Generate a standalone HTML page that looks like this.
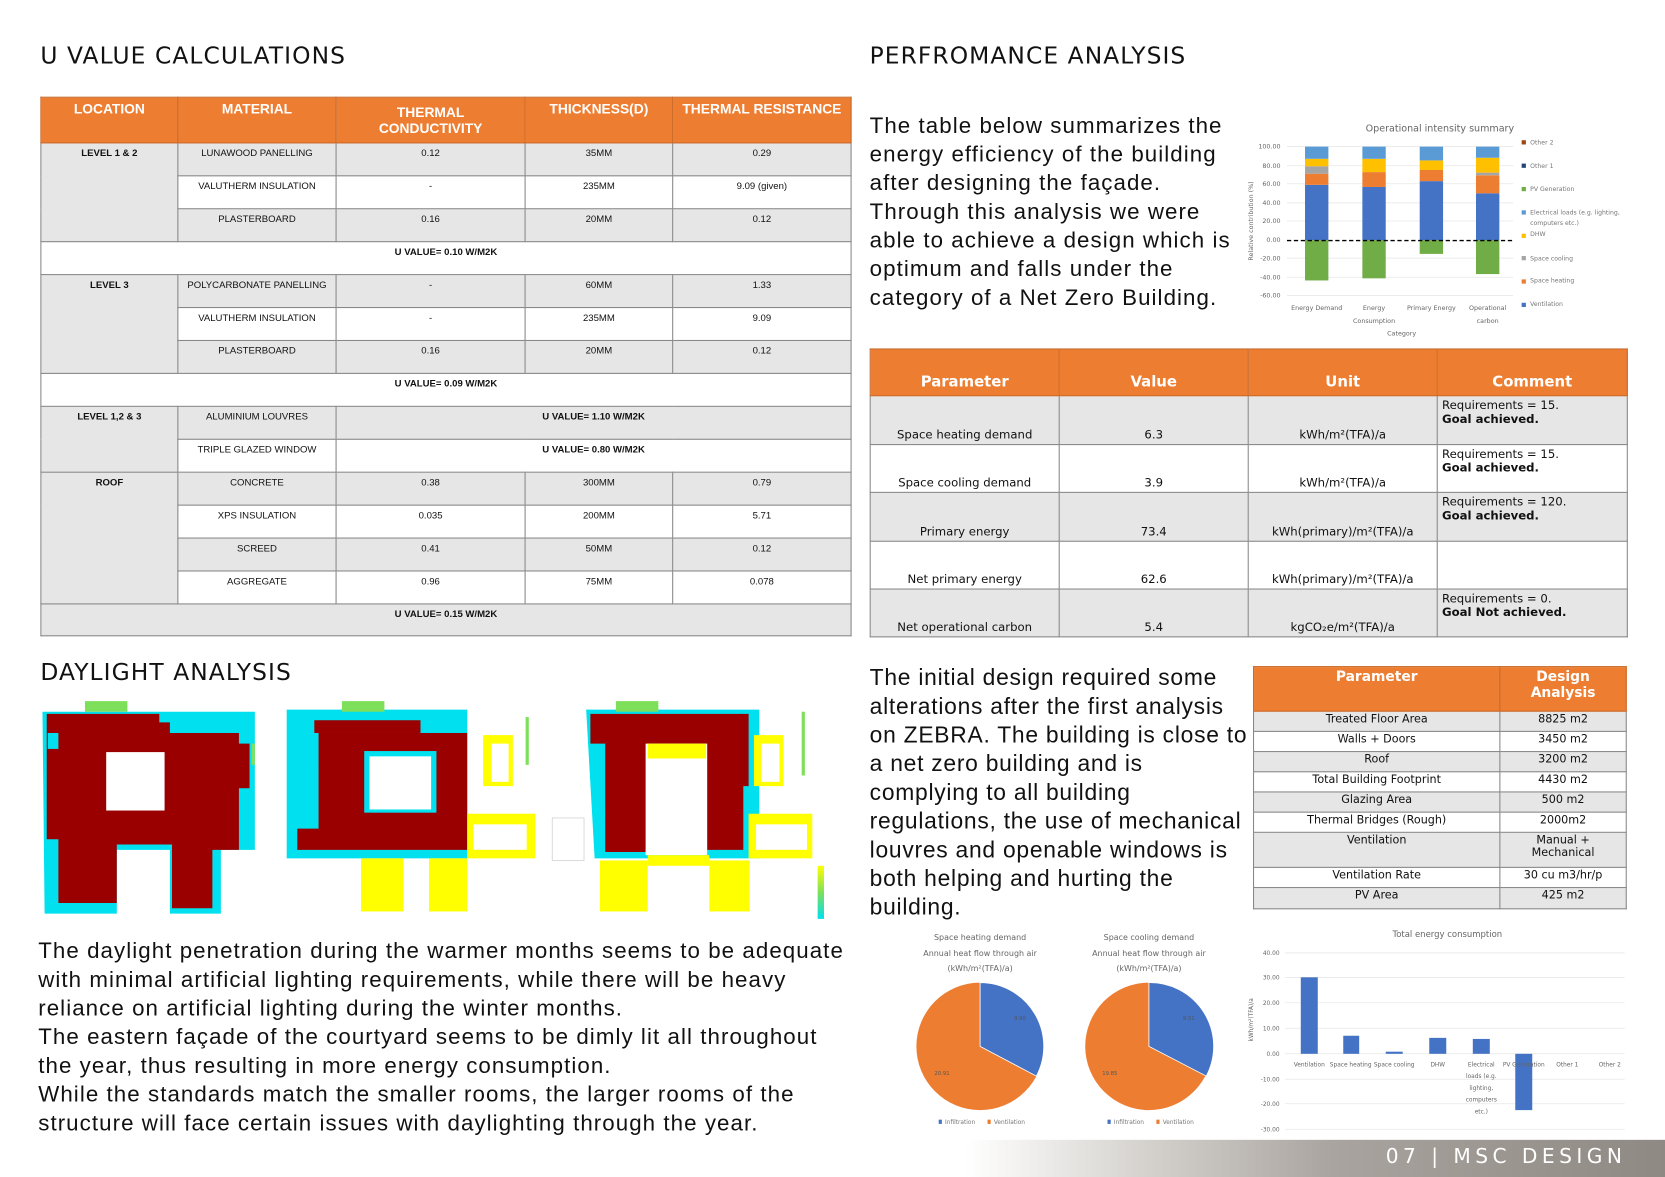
<!DOCTYPE html>
<html><head><meta charset="utf-8">
<style>
html,body{margin:0;padding:0;background:#fff;overflow:hidden}
#w{width:1568px;height:1108px;position:relative;transform:scale(1.06186,1.0623);transform-origin:0 0;font-family:"Liberation Sans","DejaVu Sans",sans-serif;color:#111}
.a{position:absolute}
h1{position:absolute;margin:0;font-weight:normal;font-size:22px;letter-spacing:1px;font-family:"DejaVu Sans","Liberation Sans",sans-serif}
.p{position:absolute;font-size:21px;line-height:27px;letter-spacing:1px;white-space:nowrap}
table{border-collapse:collapse;position:absolute;table-layout:fixed}
.t1 td{border:1px solid #888;font-size:9px;text-align:center;vertical-align:top;padding:4px 2px 0;height:26px;box-sizing:border-box}
.t1 th{background:#ed7d31;color:#fff;font-size:13px;font-weight:bold;border:1px solid #c96a2a;vertical-align:top;padding:3px 2px 0}
.g{background:#e6e6e6}
.t2 td{border:1px solid #888;font-size:11px;text-align:center;vertical-align:bottom;padding:0 0 2px;font-family:"DejaVu Sans",sans-serif}
.t2 td.c{text-align:left;vertical-align:top;padding:2px 4px}
.t2 th{background:#ed7d31;color:#fff;font-size:14px;vertical-align:bottom;padding-bottom:4px;border:1px solid #c96a2a;font-family:"DejaVu Sans",sans-serif}
.t3 td{border:1px solid #888;font-size:10.5px;text-align:center;vertical-align:top;padding:1px 0 0;font-family:"DejaVu Sans",sans-serif}
.t3 th{background:#ed7d31;color:#fff;font-size:13px;vertical-align:top;border:1px solid #c96a2a;padding-top:2px;font-family:"DejaVu Sans",sans-serif}
svg text{font-family:"DejaVu Sans",sans-serif}
</style></head><body><div id="w">

<h1 style="left:38px;top:41px">U VALUE CALCULATIONS</h1>
<h1 style="left:819px;top:41px">PERFROMANCE ANALYSIS</h1>
<h1 style="left:38px;top:621px">DAYLIGHT ANALYSIS</h1>

<table class="t1" style="left:38px;top:91px;width:763px">
<colgroup><col style="width:129px"><col style="width:149px"><col style="width:178px"><col style="width:139px"><col style="width:168px"></colgroup>
<tr style="height:43px"><th>LOCATION</th><th>MATERIAL</th><th style="padding-top:6px">THERMAL<br>CONDUCTIVITY</th><th>THICKNESS(D)</th><th>THERMAL RESISTANCE</th></tr>
<tr style="height:31px" class="g"><td rowspan="3" class="g"><b>LEVEL 1 &amp; 2</b></td><td>LUNAWOOD PANELLING</td><td>0.12</td><td>35MM</td><td>0.29</td></tr>
<tr style="height:31px"><td>VALUTHERM INSULATION</td><td>-</td><td>235MM</td><td>9.09 (given)</td></tr>
<tr style="height:31px" class="g"><td>PLASTERBOARD</td><td>0.16</td><td>20MM</td><td>0.12</td></tr>
<tr style="height:31px"><td colspan="5"><b>U VALUE= 0.10 W/M2K</b></td></tr>
<tr style="height:31px" class="g"><td rowspan="3" class="g"><b>LEVEL 3</b></td><td>POLYCARBONATE PANELLING</td><td>-</td><td>60MM</td><td>1.33</td></tr>
<tr style="height:31px"><td>VALUTHERM INSULATION</td><td>-</td><td>235MM</td><td>9.09</td></tr>
<tr style="height:31px" class="g"><td>PLASTERBOARD</td><td>0.16</td><td>20MM</td><td>0.12</td></tr>
<tr style="height:31px"><td colspan="5"><b>U VALUE= 0.09 W/M2K</b></td></tr>
<tr style="height:31px" class="g"><td rowspan="2" class="g"><b>LEVEL 1,2 &amp; 3</b></td><td>ALUMINIUM LOUVRES</td><td colspan="3"><b>U VALUE= 1.10 W/M2K</b></td></tr>
<tr style="height:31px"><td>TRIPLE GLAZED WINDOW</td><td colspan="3"><b>U VALUE= 0.80 W/M2K</b></td></tr>
<tr style="height:31px" class="g"><td rowspan="4" class="g"><b>ROOF</b></td><td>CONCRETE</td><td>0.38</td><td>300MM</td><td>0.79</td></tr>
<tr style="height:31px"><td>XPS INSULATION</td><td>0.035</td><td>200MM</td><td>5.71</td></tr>
<tr style="height:31px" class="g"><td>SCREED</td><td>0.41</td><td>50MM</td><td>0.12</td></tr>
<tr style="height:31px"><td>AGGREGATE</td><td>0.96</td><td>75MM</td><td>0.078</td></tr>
<tr style="height:30px" class="g"><td colspan="5"><b>U VALUE= 0.15 W/M2K</b></td></tr>
</table>

<div class="p" style="left:819px;top:105px">The table below summarizes the<br>energy efficiency of the building<br>after designing the façade.<br>Through this analysis we were<br>able to achieve a design which is<br>optimum and falls under the<br>category of a Net Zero Building.</div>

<svg class="a" style="left:1170px;top:108px" width="398" height="215" viewBox="1170 108 398 215">
<text x="1356" y="124" font-size="9" fill="#666" text-anchor="middle">Operational intensity summary</text>
<g font-size="6" fill="#666" text-anchor="end">
<text x="1206" y="140">100.00</text><text x="1206" y="158">80.00</text><text x="1206" y="175">60.00</text><text x="1206" y="193">40.00</text><text x="1206" y="210">20.00</text><text x="1206" y="228">0.00</text><text x="1206" y="245">-20.00</text><text x="1206" y="263">-40.00</text><text x="1206" y="280">-60.00</text></g>
<g stroke="#e6e6e6" stroke-width="0.7"><line x1="1212" x2="1425" y1="138" y2="138"/><line x1="1212" x2="1425" y1="156" y2="156"/><line x1="1212" x2="1425" y1="173" y2="173"/><line x1="1212" x2="1425" y1="191" y2="191"/><line x1="1212" x2="1425" y1="208" y2="208"/><line x1="1212" x2="1425" y1="243" y2="243"/><line x1="1212" x2="1425" y1="261" y2="261"/><line x1="1212" x2="1425" y1="278" y2="278"/></g>
<text x="1180" y="208" font-size="6" fill="#666" transform="rotate(-90 1180 208)" text-anchor="middle">Relative contribution (%)</text>
<rect x="1229" y="174" width="22" height="52" fill="#4472c4"/><rect x="1229" y="163.5" width="22" height="10.5" fill="#ed7d31"/><rect x="1229" y="156.5" width="22" height="7" fill="#a5a5a5"/><rect x="1229" y="149.5" width="22" height="7" fill="#ffc000"/><rect x="1229" y="138" width="22" height="11.5" fill="#5b9bd5"/><rect x="1229" y="226" width="22" height="38" fill="#70ad47"/>
<rect x="1283" y="176" width="22" height="50" fill="#4472c4"/><rect x="1283" y="162" width="22" height="14" fill="#ed7d31"/><rect x="1283" y="149.5" width="22" height="12.5" fill="#ffc000"/><rect x="1283" y="138" width="22" height="11.5" fill="#5b9bd5"/><rect x="1283" y="226" width="22" height="36" fill="#70ad47"/>
<rect x="1337" y="170.5" width="22" height="55.5" fill="#4472c4"/><rect x="1337" y="160" width="22" height="10.5" fill="#ed7d31"/><rect x="1337" y="151" width="22" height="9" fill="#ffc000"/><rect x="1337" y="138" width="22" height="13" fill="#5b9bd5"/><rect x="1337" y="226" width="22" height="13" fill="#70ad47"/>
<rect x="1390" y="182" width="22" height="44" fill="#4472c4"/><rect x="1390" y="165" width="22" height="17" fill="#ed7d31"/><rect x="1390" y="162.5" width="22" height="2.5" fill="#a5a5a5"/><rect x="1390" y="148.5" width="22" height="14" fill="#ffc000"/><rect x="1390" y="138" width="22" height="10.5" fill="#5b9bd5"/><rect x="1390" y="226" width="22" height="32" fill="#70ad47"/>
<line x1="1212" x2="1425" y1="226.5" y2="226.5" stroke="#000" stroke-width="1.3" stroke-dasharray="4,2.5"/>
<g font-size="6" fill="#666" text-anchor="middle"><text x="1240" y="292">Energy Demand</text><text x="1294" y="292">Energy</text><text x="1294" y="304">Consumption</text><text x="1348" y="292">Primary Energy</text><text x="1401" y="292">Operational</text><text x="1401" y="304">carbon</text><text x="1320" y="316">Category</text></g>
<g font-size="5.8" fill="#777">
<rect x="1433" y="132" width="4" height="4" fill="#9e480e"/><text x="1441" y="136">Other 2</text>
<rect x="1433" y="154" width="4" height="4" fill="#264478"/><text x="1441" y="158">Other 1</text>
<rect x="1433" y="176" width="4" height="4" fill="#70ad47"/><text x="1441" y="180">PV Generation</text>
<rect x="1433" y="198" width="4" height="4" fill="#5b9bd5"/><text x="1441" y="202">Electrical loads (e.g. lighting,</text><text x="1441" y="212">computers etc.)</text>
<rect x="1433" y="220" width="4" height="4" fill="#ffc000"/><text x="1441" y="222">DHW</text>
<rect x="1433" y="241" width="4" height="4" fill="#a5a5a5"/><text x="1441" y="245">Space cooling</text>
<rect x="1433" y="263" width="4" height="4" fill="#ed7d31"/><text x="1441" y="266">Space heating</text>
<rect x="1433" y="285" width="4" height="4" fill="#4472c4"/><text x="1441" y="288">Ventilation</text></g>
</svg>

<table class="t2" style="left:819px;top:328px;width:713px">
<colgroup><col style="width:178px"><col style="width:178px"><col style="width:178px"><col style="width:179px"></colgroup>
<tr style="height:44px"><th>Parameter</th><th>Value</th><th>Unit</th><th>Comment</th></tr>
<tr style="height:46px" class="g"><td>Space heating demand</td><td>6.3</td><td>kWh/m²(TFA)/a</td><td class="c">Requirements = 15.<br><b>Goal achieved.</b></td></tr>
<tr style="height:45px"><td>Space cooling demand</td><td>3.9</td><td>kWh/m²(TFA)/a</td><td class="c">Requirements = 15.<br><b>Goal achieved.</b></td></tr>
<tr style="height:46px" class="g"><td>Primary energy</td><td>73.4</td><td>kWh(primary)/m²(TFA)/a</td><td class="c">Requirements = 120.<br><b>Goal achieved.</b></td></tr>
<tr style="height:45px"><td>Net primary energy</td><td>62.6</td><td>kWh(primary)/m²(TFA)/a</td><td class="c"></td></tr>
<tr style="height:45px" class="g"><td>Net operational carbon</td><td>5.4</td><td>kgCO₂e/m²(TFA)/a</td><td class="c">Requirements = 0.<br><b>Goal Not achieved.</b></td></tr>
</table>

<svg class="a" style="left:36px;top:656px" width="770" height="215" viewBox="36 656 770 215">
<rect x="40" y="668" width="205" height="190" fill="#fff"/>
<path d="M40 670 H240 V800 H208 V860 H160 V800 H110 V860 H42 Z" fill="#00e0ee"/>
<rect x="80" y="660" width="40" height="10" fill="#7ee05a"/>
<path d="M44 672 H150 V680 H160 V690 H225 V800 H200 V855 H162 V795 H110 V850 H55 V790 H44 Z" fill="#9b0000"/>
<rect x="100" y="708" width="55" height="55" fill="#fff"/>
<rect x="45" y="690" width="10" height="15" fill="#00e0ee"/>
<rect x="195" y="700" width="40" height="42" fill="#9b0000"/>
<path d="M270 668 H440 V808 H270 Z" fill="#00e0ee"/>
<rect x="322" y="660" width="40" height="10" fill="#7ee05a"/>
<path d="M300 690 H440 V800 H280 V780 H300 Z" fill="#9b0000"/>
<rect x="296" y="678" width="100" height="12" fill="#9b0000"/>
<rect x="343" y="707" width="68" height="58" fill="#00e0ee"/>
<rect x="348" y="712" width="58" height="50" fill="#fff"/>
<rect x="340" y="808" width="40" height="50" fill="#ffff00"/><rect x="404" y="808" width="36" height="50" fill="#ffff00"/>
<rect x="455" y="692" width="28" height="48" fill="#ffff00"/><rect x="463" y="700" width="16" height="36" fill="#fff"/>
<rect x="440" y="766" width="64" height="42" fill="#ffff00"/><rect x="446" y="776" width="50" height="24" fill="#fff"/>
<path d="M552 668 H715 V808 H560 Z" fill="#00e0ee"/>
<rect x="580" y="660" width="40" height="10" fill="#7ee05a"/>
<path d="M556 672 H705 V740 H700 V800 H665 V700 H610 V802 H570 V700 H556 Z" fill="#9b0000"/>
<rect x="608" y="700" width="58" height="105" fill="#fff"/>
<rect x="610" y="700" width="55" height="14" fill="#ffff00"/>
<rect x="565" y="810" width="45" height="48" fill="#ffff00"/><rect x="668" y="810" width="38" height="48" fill="#ffff00"/>
<rect x="610" y="805" width="58" height="10" fill="#ffff00"/>
<rect x="710" y="692" width="28" height="48" fill="#ffff00"/><rect x="717" y="700" width="17" height="36" fill="#fff"/>
<rect x="705" y="766" width="60" height="42" fill="#ffff00"/><rect x="712" y="776" width="48" height="24" fill="#fff"/>
<rect x="520" y="770" width="30" height="40" fill="#fff" stroke="#bbb" stroke-width="0.5"/>
<defs><linearGradient id="lg" x1="0" y1="1" x2="0" y2="0"><stop offset="0" stop-color="#00e0ee"/><stop offset="0.5" stop-color="#7ee05a"/><stop offset="1" stop-color="#ffff00"/></linearGradient></defs>
<rect x="770" y="815" width="6" height="50" fill="url(#lg)"/>
<g fill="#7ee05a"><rect x="237" y="700" width="3" height="20"/><rect x="495" y="675" width="3" height="45"/><rect x="755" y="670" width="3" height="60"/></g>
</svg>

<div class="p" style="left:36px;top:882px">The daylight penetration during the warmer months seems to be adequate<br>with minimal artificial lighting requirements, while there will be heavy<br>reliance on artificial lighting during the winter months.<br>The eastern façade of the courtyard seems to be dimly lit all throughout<br>the year, thus resulting in more energy consumption.<br>While the standards match the smaller rooms, the larger rooms of the<br>structure will face certain issues with daylighting through the year.</div>

<div class="p" style="left:819px;top:625px;font-size:21.5px;letter-spacing:0.7px">The initial design required some<br>alterations after the first analysis<br>on ZEBRA. The building is close to<br>a net zero building and is<br>complying to all building<br>regulations, the use of mechanical<br>louvres and openable windows is<br>both helping and hurting the<br>building.</div>

<table class="t3" style="left:1180px;top:627px;width:351px">
<colgroup><col style="width:232px"><col style="width:119px"></colgroup>
<tr style="height:42px"><th>Parameter</th><th>Design<br>Analysis</th></tr>
<tr style="height:19px" class="g"><td>Treated Floor Area</td><td>8825 m2</td></tr>
<tr style="height:19px"><td>Walls + Doors</td><td>3450 m2</td></tr>
<tr style="height:19px" class="g"><td>Roof</td><td>3200 m2</td></tr>
<tr style="height:19px"><td>Total Building Footprint</td><td>4430 m2</td></tr>
<tr style="height:19px" class="g"><td>Glazing Area</td><td>500 m2</td></tr>
<tr style="height:19px"><td>Thermal Bridges (Rough)</td><td>2000m2</td></tr>
<tr style="height:33px" class="g"><td>Ventilation</td><td>Manual +<br>Mechanical</td></tr>
<tr style="height:19px"><td>Ventilation Rate</td><td>30 cu m3/hr/p</td></tr>
<tr style="height:20px" class="g"><td>PV Area</td><td>425 m2</td></tr>
</table>

<div class="a" style="left:0;top:1073px;width:1568px;height:35px;background:linear-gradient(to right,#fff 0%,#fff 58%,#d8d5d1 68%,#a9a49f 80%,#8f8983 100%)"></div>
<div class="a" style="left:1305px;top:1078px;font-size:19px;color:#fff;letter-spacing:4.2px;font-family:'DejaVu Sans',sans-serif">07 | MSC DESIGN</div>

<svg class="a" style="left:840px;top:870px" width="728" height="205" viewBox="840 870 728 205">
<g font-size="7.5" fill="#666" text-anchor="middle">
<text x="923" y="885">Space heating demand</text><text x="923" y="900">Annual heat flow through air</text><text x="923" y="914">(kWh/m²(TFA)/a)</text>
<text x="1082" y="885">Space cooling demand</text><text x="1082" y="900">Annual heat flow through air</text><text x="1082" y="914">(kWh/m²(TFA)/a)</text></g>
<circle cx="923" cy="985" r="60" fill="#ed7d31"/>
<path d="M923 985 V925 A60 60 0 0 1 976 1013 Z" fill="#4472c4" stroke="#fff" stroke-width="0.8"/>
<circle cx="1082" cy="985" r="60" fill="#ed7d31"/>
<path d="M1082 985 V925 A60 60 0 0 1 1136 1013 Z" fill="#4472c4" stroke="#fff" stroke-width="0.8"/>
<g font-size="5" fill="#555"><text x="955" y="960">9.90</text><text x="880" y="1012">20.91</text><text x="1114" y="960">9.51</text><text x="1038" y="1012">19.85</text></g>
<g font-size="5.5" fill="#777"><rect x="884" y="1054" width="3" height="4" fill="#4472c4"/><text x="890" y="1058">Infiltration</text><rect x="930" y="1054" width="3" height="4" fill="#ed7d31"/><text x="936" y="1058">Ventilation</text>
<rect x="1043" y="1054" width="3" height="4" fill="#4472c4"/><text x="1049" y="1058">Infiltration</text><rect x="1089" y="1054" width="3" height="4" fill="#ed7d31"/><text x="1095" y="1058">Ventilation</text></g>
<text x="1363" y="882" font-size="8" fill="#666" text-anchor="middle">Total energy consumption</text>
<g stroke="#e6e6e6" stroke-width="0.7"><line x1="1210" x2="1530" y1="897" y2="897"/><line x1="1210" x2="1530" y1="920" y2="920"/><line x1="1210" x2="1530" y1="944" y2="944"/><line x1="1210" x2="1530" y1="968" y2="968"/><line x1="1210" x2="1530" y1="992" y2="992"/><line x1="1210" x2="1530" y1="1016" y2="1016"/><line x1="1210" x2="1530" y1="1039" y2="1039"/><line x1="1210" x2="1530" y1="1063" y2="1063"/></g>
<g font-size="5.5" fill="#666" text-anchor="end"><text x="1205" y="899">40.00</text><text x="1205" y="922">30.00</text><text x="1205" y="946">20.00</text><text x="1205" y="970">10.00</text><text x="1205" y="994">0.00</text><text x="1205" y="1018">-10.00</text><text x="1205" y="1041">-20.00</text><text x="1205" y="1065">-30.00</text></g>
<text x="1180" y="960" font-size="5.5" fill="#666" transform="rotate(-90 1180 960)" text-anchor="middle">kWh/m²(TFA)/a</text>
<g fill="#4472c4"><rect x="1225" y="920" width="16" height="72"/><rect x="1265" y="975" width="15" height="17"/><rect x="1305" y="990" width="16" height="2"/><rect x="1346" y="977" width="16" height="15"/><rect x="1387" y="978" width="16" height="14"/><rect x="1427" y="992" width="16" height="53"/></g>
<g font-size="5.5" fill="#666" text-anchor="middle"><text x="1233" y="1004">Ventilation</text><text x="1272" y="1004">Space heating</text><text x="1313" y="1004">Space cooling</text><text x="1354" y="1004">DHW</text><text x="1395" y="1004">Electrical</text><text x="1395" y="1015">loads (e.g.</text><text x="1395" y="1026">lighting,</text><text x="1395" y="1037">computers</text><text x="1395" y="1048">etc.)</text><text x="1435" y="1004">PV Generation</text><text x="1476" y="1004">Other 1</text><text x="1516" y="1004">Other 2</text></g>
</svg>

</div></body></html>
